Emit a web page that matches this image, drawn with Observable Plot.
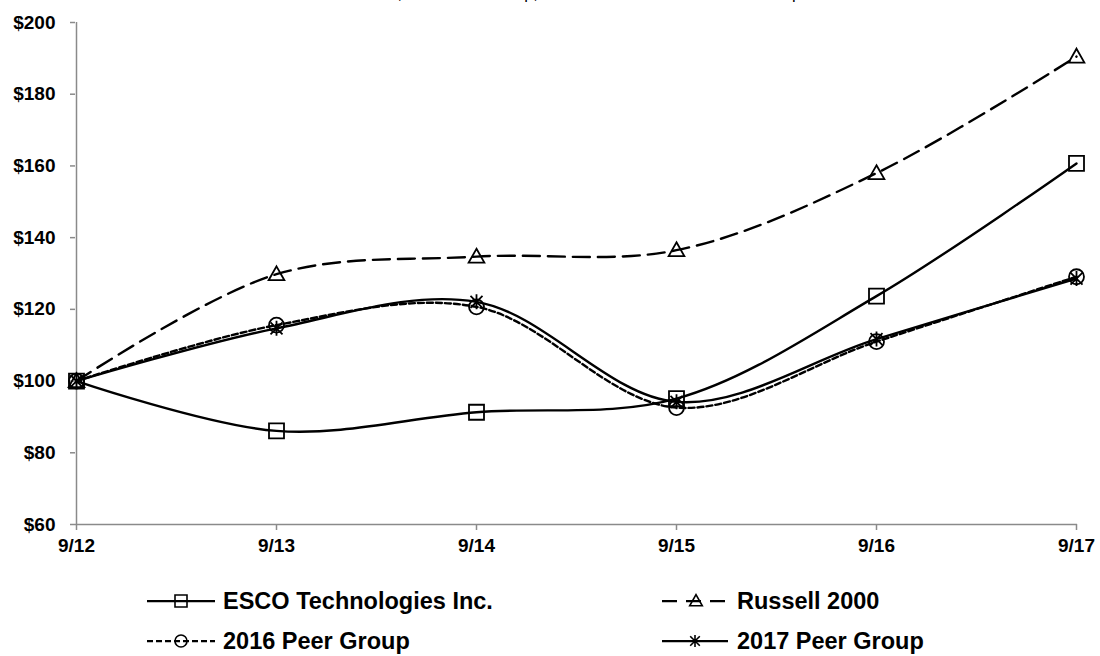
<!DOCTYPE html>
<html>
<head>
<meta charset="utf-8">
<script src="https://cdn.jsdelivr.net/npm/d3@7"></script>
<script src="https://cdn.jsdelivr.net/npm/@observablehq/plot@0.6"></script>
<style>
  body { margin: 0; background: #fff; }
  #wrap { position: relative; width: 1100px; height: 656px; overflow: hidden; background: #fff; }
  #title { position: absolute; left: 75px; width: 1002px; top: -15px; text-align: center;
           font: 16.5px/16.5px "Liberation Sans", Arial, sans-serif; color: #000; white-space: nowrap; }
  #chart svg { display: block; }
  #legend { display: block; }
</style>
</head>
<body>
<div id="wrap">
  <div id="title">ESCO, 2016 Peer Group, Russell 2000 and 2017 Peer Group</div>
  <div id="chart"></div>
  <svg id="legend" width="1100" height="96"></svg>
</div>
<script>
// ---- data ----
const years = ["9/12", "9/13", "9/14", "9/15", "9/16", "9/17"];
const seriesNames = ["ESCO Technologies Inc.", "Russell 2000", "2016 Peer Group", "2017 Peer Group"];
const escoValues = [100, 86.1, 91.3, 95.1, 123.7, 160.7];
const russellValues = [100, 129.8, 134.7, 136.5, 158.0, 190.5];
const peer2016Values = [100, 115.6, 120.7, 92.6, 111.0, 129.1];
const peer2017Values = [100, 114.7, 122.1, 94.2, 111.7, 128.6];
const yTickValues = [60, 80, 100, 120, 140, 160, 180, 200];

// ---- marker shapes ----
function makeSymbol(kind, s) {
  return {
    draw(c) {
      if (kind === "square") {
        c.moveTo(-s, -s); c.lineTo(s, -s); c.lineTo(s, s); c.lineTo(-s, s); c.closePath();
      } else if (kind === "triangle") {
        c.moveTo(0, -s * 1.05); c.lineTo(s * 1.05, s * 0.8); c.lineTo(-s * 1.05, s * 0.8); c.closePath();
      } else if (kind === "circle") {
        c.moveTo(s, 0); c.arc(0, 0, s, 0, 2 * Math.PI);
      } else {
        c.moveTo(0, -s); c.lineTo(0, s);
        c.moveTo(-s * 0.8, -s * 0.8); c.lineTo(s * 0.8, s * 0.8);
        c.moveTo(-s * 0.8, s * 0.8); c.lineTo(s * 0.8, -s * 0.8);
      }
    }
  };
}

const series = [
  {name: seriesNames[0], values: escoValues, dash: null, kind: "square"},
  {name: seriesNames[1], values: russellValues, dash: "17,8", kind: "triangle"},
  {name: seriesNames[2], values: peer2016Values, dash: "6,3", kind: "circle"},
  {name: seriesNames[3], values: peer2017Values, dash: null, kind: "star"}
];

const axisGray = "#8a8a8a";
const marks = [
  Plot.ruleY([60], {stroke: axisGray, strokeWidth: 1.5}),
  Plot.ruleX([years[0]], {y1: 60, y2: 200, stroke: axisGray, strokeWidth: 1.5}),
  Plot.axisY({ticks: yTickValues, tickFormat: d => "$" + d, tickSize: 5, tickPadding: 15,
              stroke: axisGray, strokeWidth: 1.5, fill: "black", fontSize: 19, fontWeight: "bold", label: null}),
  Plot.axisX({ticks: years, tickSize: 6, tickPadding: 8,
              stroke: axisGray, strokeWidth: 1.5, fill: "black", fontSize: 19, fontWeight: "bold", label: null})
];

for (const s of series) {
  const data = years.map((x, i) => ({x, y: s.values[i], name: s.name}));
  marks.push(Plot.line(data, {x: "x", y: "y", curve: "catmull-rom", stroke: "black",
    strokeWidth: 2.4, strokeDasharray: s.dash || undefined}));
}
for (const s of series) {
  const data = years.map((x, i) => ({x, y: s.values[i], name: s.name}));
  marks.push(Plot.dot(data, {x: "x", y: "y", symbol: makeSymbol(s.kind, 7.5), r: 7.5,
    stroke: "black", fill: "none", strokeWidth: 1.8}));
}

const chart = Plot.plot({
  width: 1100,
  height: 560,
  marginLeft: 75,
  marginRight: 23,
  marginTop: 22,
  marginBottom: 36,
  style: {fontFamily: "'Liberation Sans', Arial, sans-serif", fontSize: "19px", fontWeight: "bold",
          color: "black", background: "white"},
  x: {type: "point", domain: years, padding: 0},
  y: {domain: [60, 200]},
  marks
});
document.getElementById("chart").appendChild(chart);

// ---- legend ----
const legend = d3.select("#legend");
const legendLayout = [
  {x0: 147, x1: 215, tx: 223, y: 41},
  {x0: 662, x1: 730, tx: 737, y: 41},
  {x0: 147, x1: 215, tx: 223, y: 81},
  {x0: 662, x1: 728, tx: 737, y: 81}
];
series.forEach((s, i) => {
  const L = legendLayout[i];
  const g = legend.append("g");
  g.append("line").attr("x1", L.x0).attr("x2", L.x1).attr("y1", L.y).attr("y2", L.y)
    .attr("stroke", "black").attr("stroke-width", 2.25)
    .attr("stroke-dasharray", s.dash ? (s.kind === "triangle" ? "15,9" : "6,3") : null);
  const p = d3.path();
  makeSymbol(s.kind, 6).draw(p);
  g.append("path").attr("d", p.toString())
    .attr("transform", `translate(${(L.x0 + L.x1) / 2},${L.y})`)
    .attr("fill", "none").attr("stroke", "black").attr("stroke-width", 1.6);
  g.append("text").attr("x", L.tx).attr("y", L.y + 8)
    .attr("font-family", "'Liberation Sans', Arial, sans-serif")
    .attr("font-size", 23.5).attr("font-weight", "bold").attr("fill", "black")
    .text(s.name);
});
</script>
</body>
</html>
